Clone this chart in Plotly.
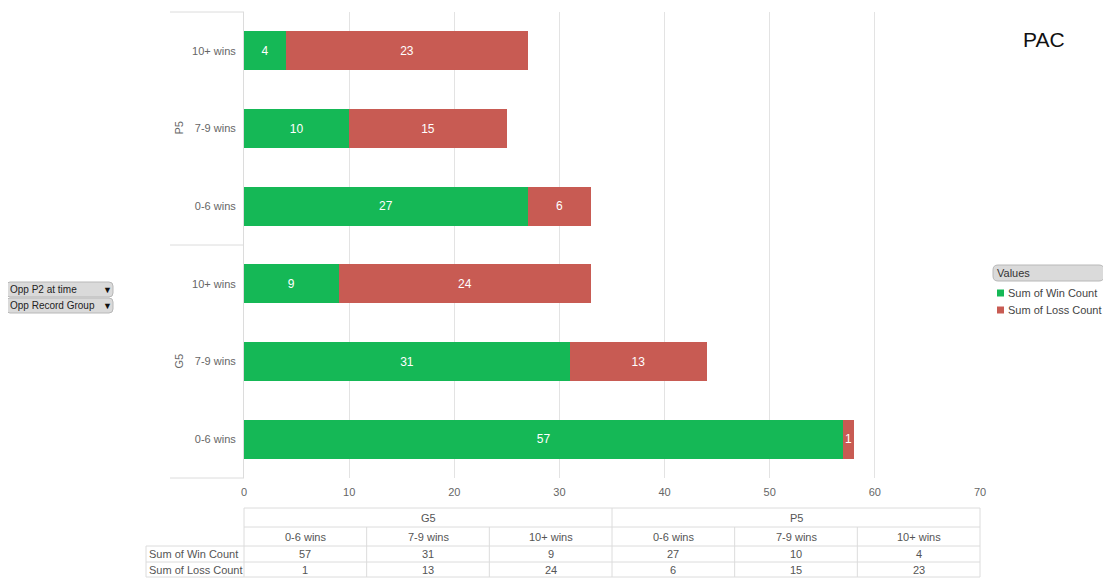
import plotly.graph_objects as go

# pivot data: conference group / opponent record group
groups = ["G5", "G5", "G5", "P5", "P5", "P5"]
records = ["0-6 wins", "7-9 wins", "10+ wins", "0-6 wins", "7-9 wins", "10+ wins"]
win_count = [57, 31, 9, 27, 10, 4]
loss_count = [1, 13, 24, 6, 15, 23]
series_names = ["Sum of Win Count", "Sum of Loss Count"]
series_colors = ["#15b856", "#c85b53"]
title_text = "PAC"
filters = ["Opp P2 at time", "Opp Record Group"]

GRID = "#e3e3e3"
LINE = "#dcdcdc"
FONT = "Liberation Sans, Arial, Helvetica, sans-serif"

# page body adds 8px, so the figure is drawn 8px smaller and everything shifted
OFF = 8
W, H = 1111 - OFF, 585 - OFF
L, R, T, B = 244, 980, 12, 478  # plot area, in screen pixels


def px(x):
    return (x - L) / (R - L)


def py(y):
    return (B - y) / (B - T)


def rrect(x0, y0, x1, y1, r=4):
    # rounded rectangle path in paper coords from a pixel box
    rx = r / (R - L)
    ry = r / (B - T)
    a, b, c, d = px(x0), py(y1), px(x1), py(y0)
    return (f"M{a+rx},{b} L{c-rx},{b} Q{c},{b} {c},{b+ry} L{c},{d-ry} Q{c},{d} {c-rx},{d} "
            f"L{a+rx},{d} Q{a},{d} {a},{d-ry} L{a},{b+ry} Q{a},{b} {a+rx},{b} Z")


cats = [g + "|" + r for g, r in zip(groups, records)]

fig = go.Figure()
for name, vals, col in zip(series_names, [win_count, loss_count], series_colors):
    fig.add_trace(go.Bar(y=cats, x=vals, orientation="h", name=name,
                         marker=dict(color=col, line=dict(width=0)), width=0.5,
                         text=vals, textposition="inside", insidetextanchor="middle",
                         textfont=dict(color="white", size=12, family=FONT)))

shapes = []
annotations = []


def hline(x0, x1, y):
    shapes.append(dict(type="line", xref="paper", yref="paper", x0=px(x0), x1=px(x1),
                       y0=py(y), y1=py(y), line=dict(color=LINE, width=1)))


def vline(x, y0, y1):
    shapes.append(dict(type="line", xref="paper", yref="paper", x0=px(x), x1=px(x),
                       y0=py(y0), y1=py(y1), line=dict(color=LINE, width=1)))


def label(text, x, y, size=11, color="#555", anchor="center", angle=0):
    annotations.append(dict(text=str(text), xref="paper", yref="paper", x=px(x), y=py(y),
                            xanchor=anchor, yanchor="middle", showarrow=False, textangle=angle,
                            font=dict(size=size, color=color, family=FONT)))


# group separators and rotated group labels left of the y axis
for yy in (T, (T + B) / 2, B):
    hline(170, L, yy)
group_names = list(dict.fromkeys(groups))
for gi, g in enumerate(group_names):
    label(g, 178, B - (B - T) * (0.25 + 0.5 * gi), size=11, color="#666", angle=-90)

# data table under the axis
tl = 146
t_rows = [508, 527, 546, 562, 577]
ncol = len(win_count)
colw = (R - L) / ncol

hline(L, R, t_rows[0])
hline(L, R, t_rows[1])
for yy in t_rows[2:]:
    hline(tl, R, yy)
vline(L, t_rows[0], t_rows[-1])
vline((L + R) / 2, t_rows[0], t_rows[-1])
vline(R, t_rows[0], t_rows[-1])
vline(tl, t_rows[2], t_rows[-1])
for i in (1, 2, 4, 5):
    vline(L + colw * i, t_rows[1], t_rows[-1])

for gi, g in enumerate(group_names):
    label(g, L + (R - L) / 4 * (2 * gi + 1), (t_rows[0] + t_rows[1]) / 2)
for i in range(ncol):
    cx = L + colw * (i + 0.5)
    for row, val in ((1, records[i]), (2, win_count[i]), (3, loss_count[i])):
        label(val, cx, (t_rows[row] + t_rows[row + 1]) / 2)
for row, name in ((2, series_names[0]), (3, series_names[1])):
    label(name, tl + 1, (t_rows[row] + t_rows[row + 1]) / 2, anchor="left")

# filter buttons on the far left
for k, text in enumerate(filters):
    y0 = 282 + 16 * k
    shapes.append(dict(type="path", xref="paper", yref="paper", path=rrect(6, y0, 113, y0 + 15, 4),
                       fillcolor="#dadada", line=dict(color="#b8b8b8", width=1)))
    label(text, 8, y0 + 7.5, size=10, color="#222", anchor="left")
    label("▼", 107, y0 + 7.5, size=9, color="#111")

# legend drawn by hand so it does not push the right margin
shapes.append(dict(type="path", xref="paper", yref="paper", path=rrect(993, 265, 1104, 281, 5),
                   fillcolor="#dadada", line=dict(color="#b8b8b8", width=1)))
label("Values", 995, 273, size=11, color="#333", anchor="left")
for k, (name, col) in enumerate(zip(series_names, series_colors)):
    yy = 293 + 17 * k
    shapes.append(dict(type="rect", xref="paper", yref="paper", x0=px(997), x1=px(1004),
                       y0=py(yy + 3.5), y1=py(yy - 3.5), fillcolor=col, line=dict(width=0)))
    label(name, 1006, yy, size=11, color="#444", anchor="left")

# chart title
label(title_text, 1044, 40, size=21, color="#111")

fig.update_layout(
    width=W, height=H,
    margin=dict(l=L - OFF, r=W - (R - OFF), t=T - OFF, b=H - (B - OFF), pad=0, autoexpand=False),
    barmode="stack",
    showlegend=False,
    paper_bgcolor="white",
    plot_bgcolor="white",
    font=dict(family=FONT, size=11, color="#666"),
    uniformtext=dict(minsize=12, mode="show"),
    xaxis=dict(range=[0, 70], dtick=10, showgrid=True, gridcolor=GRID, zeroline=False,
               showline=False, ticks="", ticklabelstandoff=6,
               tickfont=dict(size=11, color="#666")),
    yaxis=dict(type="category", categoryorder="array", categoryarray=cats,
               tickvals=cats, ticktext=records, showgrid=False, zeroline=False,
               showline=True, linecolor=LINE, ticks="", ticklabelstandoff=5,
               tickfont=dict(size=11, color="#666")),
    shapes=shapes,
    annotations=annotations,
)

fig.write_html("out.html")
